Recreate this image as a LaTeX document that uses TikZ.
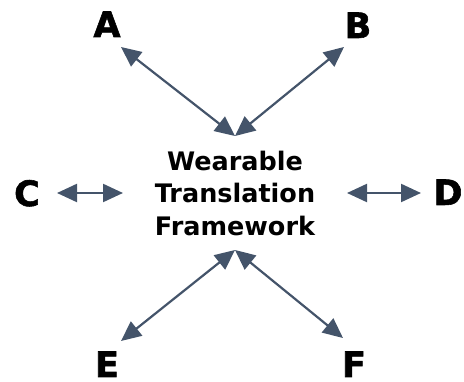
\documentclass[tikz,border=0pt]{standalone}
\usepackage{fontspec}
\setmainfont{DejaVu Sans}
\newfontfamily\heavyfont[FakeBold=1.6]{DejaVu Sans Bold}
\usepackage{tikz}
\usetikzlibrary{arrows.meta}
\definecolor{linkgray}{HTML}{44546A}
\tikzset{
  letter/.style={
    font=\fontsize{35}{35}\selectfont\heavyfont,
    inner sep=0pt,
    anchor=base
  },
  hubtext/.style={
    align=center,
    font=\fontsize{25.5}{32.5}\selectfont\bfseries,
    inner sep=0pt
  },
  link/.style={
    draw=linkgray,
    line width=2.2pt,
    >={Triangle[length=20pt,width=18pt]},
    <->
  }
}

\begin{document}
\begin{tikzpicture}[x=1pt, y=-1pt]
  \useasboundingbox (0,0) rectangle (464,382);

  % centre and outer labels
  \node[hubtext] (hub) at (235,193) {Wearable\\Translation\\Framework};
  \node[letter] (A) at (107,37) {A};
  \node[letter] (B) at (358,38) {B};
  \node[letter] (C) at (27,206) {C};
  \node[letter] (D) at (448,205) {D};
  \node[letter] (E) at (107,377) {E};
  \node[letter] (F) at (354,377) {F};

  % arrow ends
  \coordinate (hub-n) at (235,136);
  \coordinate (hub-s) at (235,250);
  \coordinate (hub-w) at (123,193);
  \coordinate (hub-e) at (347,193);
  \coordinate (A-end) at (121,47);
  \coordinate (B-end) at (344,47);
  \coordinate (C-end) at (57,193);
  \coordinate (D-end) at (421,193);
  \coordinate (E-end) at (121,341);
  \coordinate (F-end) at (343,338);

  \draw[link] (A-end) -- (hub-n);
  \draw[link] (B-end) -- (hub-n);
  \draw[link] (C-end) -- (hub-w);
  \draw[link] (D-end) -- (hub-e);
  \draw[link] (E-end) -- (hub-s);
  \draw[link] (F-end) -- (hub-s);
\end{tikzpicture}
\end{document}
